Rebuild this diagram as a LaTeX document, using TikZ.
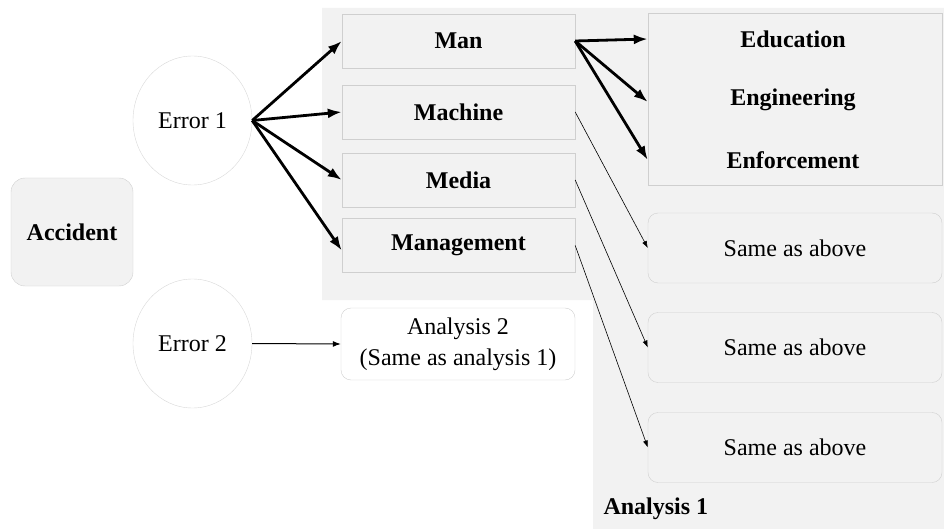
\documentclass[tikz,border=0pt]{standalone}
\usepackage{fontspec}
\setmainfont{Liberation Serif}
\usetikzlibrary{positioning,shapes.geometric,arrows.meta}
\definecolor{boxfill}{HTML}{F2F2F2}
\definecolor{boxline}{HTML}{CFCFCF}

\begin{document}
\begin{tikzpicture}[x=1pt, y=-1pt,
		txt/.style={font=\fontsize{24}{29}\selectfont},
		btxt/.style={font=\fontsize{24}{29}\selectfont\bfseries},
		fbox/.style={btxt, draw=boxline, fill=boxfill, minimum width=233pt, minimum height=54pt},
		rbox/.style={txt, draw=boxline, fill=boxfill, rounded corners=10pt, minimum width=294pt, minimum height=70pt},
		err/.style={txt, ellipse, draw=boxline!80, fill=white, minimum width=119pt, minimum height=129pt},
		big/.style={-{Latex[length=14pt,width=10pt]}, line width=2.8pt},
		thin/.style={-{Latex[length=7pt,width=5pt]}, line width=0.6pt}]
		\useasboundingbox (0,0) rectangle (944,529);
		% analysis 1 area
		\fill[boxfill] (322,8) -- (944,8) -- (944,529) -- (593,529) -- (593,300) -- (322,300) -- cycle;

		\node[rbox, btxt, rounded corners=14pt, minimum width=122pt, minimum height=108pt] (acc) at (72,232) {Accident};
		\node[err] (e1) at (192.5,120.5) {Error 1};
		\node[err] (e2) at (192.5,343.5) {Error 2};

		\node[fbox] (man) at (458.5,41) {Man};
		\node[fbox] (mach) at (458.5,112) {Machine};
		\node[fbox] (med) at (458.5,180) {Media};
		\node[fbox] (mgt) at (458.5,245.5) {Management};

		\node[fbox, minimum width=294pt, minimum height=172pt] (ee) at (795,99) {};
		\node[btxt] (edu) at (793,39) {Education};
		\node[btxt] (eng) at (793,100) {Engineering};
		\node[btxt] (enf) at (793,160) {Enforcement};

		\node[rbox] (same1) at (795,248) {Same as above};
		\node[rbox] (same2) at (795,347.5) {Same as above};
		\node[rbox] (same3) at (795,447.5) {Same as above};

		\node[rbox, fill=white, minimum width=234pt, minimum height=72pt, align=center, font=\fontsize{24}{31}\selectfont] (an2) at (458,344) {Analysis 2\\(Same as analysis 1)};
		\node[btxt, anchor=west] (an1) at (600,509) {Analysis 1};

		\path[big] (e1.east) edge (man.west);
		\path[big] (e1.east) edge (mach.west);
		\path[big] (e1.east) edge (med.west);
		\path[big] (e1.east) edge ([yshift=-5pt]mgt.west);
		\path[big] (man.east) edge (ee.west |- edu);
		\path[big] (man.east) edge ([yshift=-3pt]ee.west);
		\path[big] (man.east) edge (ee.west |- enf);
		\path[thin] (mach.east) edge (same1.west);
		\path[thin] (med.east) edge (same2.west);
		\path[thin] (mgt.east) edge (same3.west);
		\path[-{Latex[length=8pt,width=6pt]}, line width=1pt] (e2.east) edge (an2.west);
	\end{tikzpicture}
\end{document}
